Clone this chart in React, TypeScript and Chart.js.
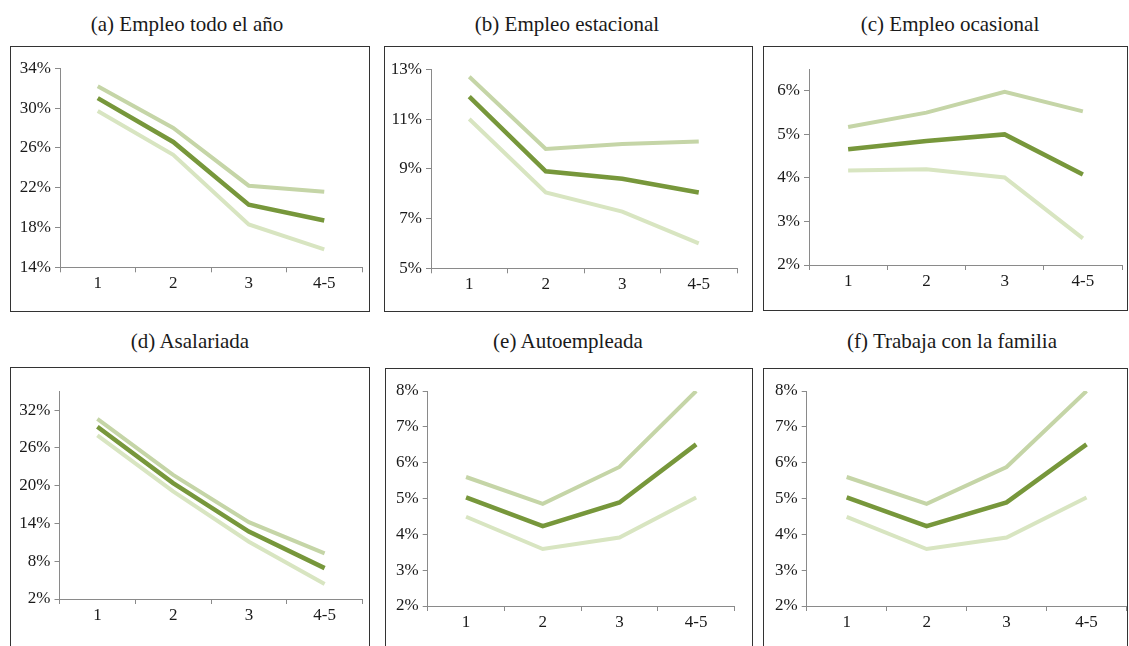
import React, { useEffect, useRef } from "react";
import { Chart, registerables } from "chart.js";

Chart.register(...registerables);

// ---------- data ----------
const categories = ["1", "2", "3", "4-5"];

const titles = [
  "(a) Empleo todo el año",
  "(b) Empleo estacional",
  "(c) Empleo ocasional",
  "(d) Asalariada",
  "(e) Autoempleada",
  "(f) Trabaja con la familia",
];

const aUpper = [32.2, 28.0, 22.2, 21.6];
const aMid = [31.0, 26.6, 20.3, 18.7];
const aLower = [29.7, 25.3, 18.3, 15.8];
const aTicks = [14, 18, 22, 26, 30, 34];

const bUpper = [12.7, 9.8, 10.0, 10.1];
const bMid = [11.9, 8.9, 8.6, 8.05];
const bLower = [11.0, 8.05, 7.28, 6.0];
const bTicks = [5, 7, 9, 11, 13];

const cUpper = [5.17, 5.5, 5.98, 5.53];
const cMid = [4.66, 4.85, 5.0, 4.08];
const cLower = [4.17, 4.2, 4.01, 2.61];
const cTicks = [2, 3, 4, 5, 6];

const dUpper = [30.6, 21.7, 14.2, 9.25];
const dMid = [29.35, 20.4, 12.7, 6.9];
const dLower = [28.0, 19.1, 11.1, 4.4];
const dTicks = [2, 8, 14, 20, 26, 32];

const eUpper = [5.6, 4.85, 5.88, 8.0];
const eMid = [5.03, 4.23, 4.89, 6.51];
const eLower = [4.49, 3.59, 3.91, 5.03];
const eTicks = [2, 3, 4, 5, 6, 7, 8];

const fUpper = [5.6, 4.85, 5.88, 8.0];
const fMid = [5.03, 4.23, 4.89, 6.51];
const fLower = [4.49, 3.59, 3.91, 5.03];
const fTicks = [2, 3, 4, 5, 6, 7, 8];

// ---------- styling / layout ----------
const COLOR_UPPER = "#c5d5a7";
const COLOR_MID = "#77973b";
const COLOR_LOWER = "#d8e5c1";
const AXIS_COLOR = "#8a8a8a";
const TEXT_COLOR = "#1a1a1a";
const FONT = "'Liberation Serif', 'Times New Roman', serif";

type PanelSpec = {
  title: string;
  titleX: number;
  titleTop: number;
  upper: number[];
  mid: number[];
  lower: number[];
  ticks: number[];
  min: number;
  max: number;
  box: { L: number; T: number; R: number; B: number };
  plot: { axisX: number; top: number; bottom: number; right: number };
};

const panels: PanelSpec[] = [
  {
    title: titles[0], titleX: 187, titleTop: 12,
    upper: aUpper, mid: aMid, lower: aLower, ticks: aTicks, min: 14, max: 34,
    box: { L: 10, T: 46, R: 370, B: 312 },
    plot: { axisX: 60, top: 68.3, bottom: 267.3, right: 362 },
  },
  {
    title: titles[1], titleX: 567, titleTop: 12,
    upper: bUpper, mid: bMid, lower: bLower, ticks: bTicks, min: 5, max: 13,
    box: { L: 384, T: 46, R: 753, B: 312 },
    plot: { axisX: 431, top: 69.3, bottom: 268.3, right: 737 },
  },
  {
    title: titles[2], titleX: 950, titleTop: 12,
    upper: cUpper, mid: cMid, lower: cLower, ticks: cTicks, min: 2, max: 6.5,
    box: { L: 763, T: 46, R: 1128, B: 311 },
    plot: { axisX: 809, top: 69.1, bottom: 265, right: 1122 },
  },
  {
    title: titles[3], titleX: 190, titleTop: 329,
    upper: dUpper, mid: dMid, lower: dLower, ticks: dTicks, min: 2, max: 35,
    box: { L: 10, T: 367, R: 370, B: 652 },
    plot: { axisX: 59.5, top: 391.2, bottom: 599, right: 362.5 },
  },
  {
    title: titles[4], titleX: 568, titleTop: 329,
    upper: eUpper, mid: eMid, lower: eLower, ticks: eTicks, min: 2, max: 8,
    box: { L: 385, T: 368, R: 753, B: 652 },
    plot: { axisX: 427.7, top: 391, bottom: 606, right: 734.5 },
  },
  {
    title: titles[5], titleX: 952, titleTop: 329,
    upper: fUpper, mid: fMid, lower: fLower, ticks: fTicks, min: 2, max: 8,
    box: { L: 763, T: 368, R: 1128, B: 652 },
    plot: { axisX: 806.7, top: 391, bottom: 606, right: 1126.5 },
  },
];

function Panel({ spec }: { spec: PanelSpec }) {
  const ref = useRef<HTMLCanvasElement | null>(null);
  const { box, plot } = spec;
  const w = box.R - box.L;
  const h = box.B - box.T;

  useEffect(() => {
    if (!ref.current) return;
    const yWidth = plot.axisX - box.L;
    const xHeight = box.B - plot.bottom;
    const chart = new Chart(ref.current, {
      type: "line",
      data: {
        labels: categories,
        datasets: [
          { data: spec.mid, borderColor: COLOR_MID, borderWidth: 4.5 },
          { data: spec.upper, borderColor: COLOR_UPPER, borderWidth: 4 },
          { data: spec.lower, borderColor: COLOR_LOWER, borderWidth: 4 },
        ].map((d) => ({ ...d, pointRadius: 0, tension: 0, fill: false, borderCapStyle: "butt" as const })),
      },
      options: {
        responsive: false,
        animation: false,
        layout: {
          padding: { left: 0, top: plot.top - box.T, right: box.R - plot.right, bottom: 0 },
        },
        plugins: { legend: { display: false }, tooltip: { enabled: false } },
        scales: {
          x: {
            type: "category",
            offset: true,
            grid: {
              offset: true,
              drawOnChartArea: false,
              drawTicks: true,
              tickLength: 5,
              color: AXIS_COLOR,
            },
            border: { display: true, color: AXIS_COLOR, width: 1 },
            ticks: {
              color: TEXT_COLOR,
              font: { family: FONT, size: 17 },
              padding: 1,
              maxRotation: 0,
            },
            afterFit: (scale: any) => {
              scale.height = xHeight;
            },
          },
          y: {
            type: "linear",
            min: spec.min,
            max: spec.max,
            bounds: "data",
            grid: {
              drawOnChartArea: false,
              drawTicks: true,
              tickLength: 5,
              color: AXIS_COLOR,
            },
            border: { display: true, color: AXIS_COLOR, width: 1 },
            ticks: {
              color: TEXT_COLOR,
              font: { family: FONT, size: 17 },
              padding: 4,
              callback: (v: any) => `${v}%`,
            },
            afterBuildTicks: (scale: any) => {
              scale.ticks = spec.ticks.map((v) => ({ value: v }));
            },
            afterFit: (scale: any) => {
              scale.width = yWidth;
            },
          },
        },
      } as any,
    });
    return () => chart.destroy();
  }, []);

  return (
    <>
      <div
        style={{
          position: "absolute",
          left: spec.titleX - 200,
          top: spec.titleTop,
          width: 400,
          textAlign: "center",
          fontFamily: FONT,
          fontSize: 21,
          lineHeight: "24px",
          color: TEXT_COLOR,
          whiteSpace: "nowrap",
        }}
      >
        {spec.title}
      </div>
      <div
        style={{
          position: "absolute",
          left: box.L,
          top: box.T,
          width: w,
          height: h,
          boxSizing: "border-box",
          border: "1px solid #333",
        }}
      />
      <canvas
        ref={ref}
        width={w}
        height={h}
        style={{ position: "absolute", left: box.L, top: box.T, width: w, height: h }}
      />
    </>
  );
}

export default function App() {
  return (
    <div
      style={{
        position: "fixed",
        left: 0,
        top: 0,
        width: 1129,
        height: 646,
        overflow: "hidden",
        background: "#ffffff",
      }}
    >
      {panels.map((p, i) => (
        <Panel key={i} spec={p} />
      ))}
    </div>
  );
}
